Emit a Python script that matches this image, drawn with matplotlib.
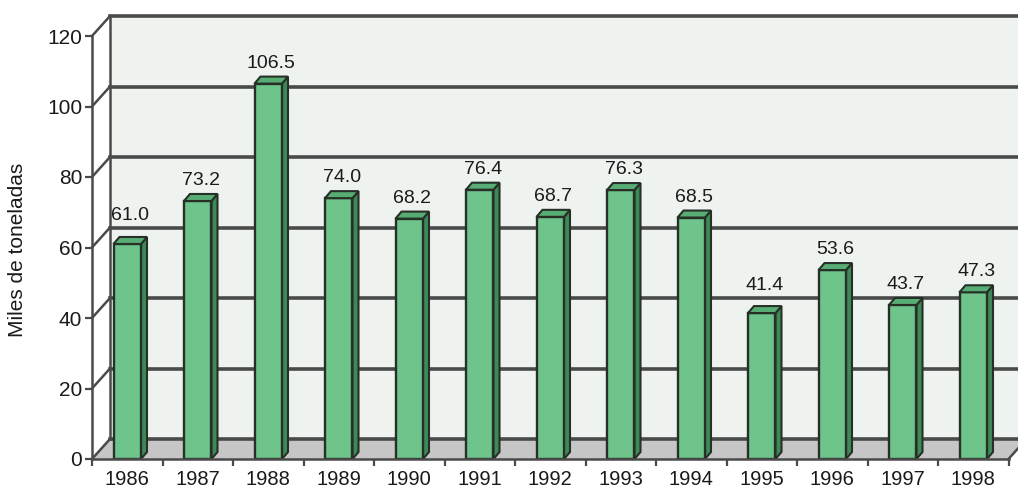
import numpy as np
import matplotlib
matplotlib.use("Agg")
import matplotlib.pyplot as plt
from matplotlib.patches import Polygon

plt.rcParams["font.family"] = ["Liberation Sans", "DejaVu Sans"]

# annual production, thousands of tonnes
years = ["1986", "1987", "1988", "1989", "1990", "1991", "1992",
         "1993", "1994", "1995", "1996", "1997", "1998"]
values = [61.0, 73.2, 106.5, 74.0, 68.2, 76.4, 68.7,
          76.3, 68.5, 41.4, 53.6, 43.7, 47.3]
y_ticks = [0, 20, 40, 60, 80, 100, 120]

W, H = 1018, 495
fig = plt.figure(figsize=(W / 100, H / 100), dpi=100)
fig.patch.set_facecolor("white")

# axes box in pixels: front y-axis at x=92, zero line at y=459, top at y=16
left_px, zero_px, top_px = 92, 459, 16
ax = fig.add_axes([left_px / W, (H - zero_px) / H,
                   (W - left_px) / W, (zero_px - top_px) / H])

px_x = 70.5            # pixels per category
px_y = 423 / 120.0     # pixels per unit
dx = 18 / px_x         # depth of the wall
dy = 20 / px_y
bdx = 6 / px_x         # depth of each bar
bdy = 7 / px_y

n = len(years)
x = np.arange(n)
x_end = n - 0.5
ax.set_xlim(-0.5, -0.5 + (W - left_px) / px_x)
ax.set_ylim(0, 120 + dy)

edge = "#263026"
grid = "#4a4a4a"

# back wall and floor
xr = ax.get_xlim()[1] + 1
ax.add_patch(Polygon([(-0.5 + dx, dy), (xr, dy), (xr, 120 + dy), (-0.5 + dx, 120 + dy)],
                     closed=True, facecolor="#eef3ef", edgecolor="none", zorder=0))
ax.add_patch(Polygon([(-0.5, 0), (x_end, 0), (x_end + dx, dy), (-0.5 + dx, dy)],
                     closed=True, facecolor="#c6c6c6", edgecolor="none", zorder=0))

for v in y_ticks:
    ax.plot([-0.5 + dx, xr], [v + dy, v + dy], color=grid, lw=2.6, zorder=1,
            clip_on=False if v == 120 else True)
    ax.plot([-0.5, -0.5 + dx], [v, v + dy], color=grid, lw=1.8, zorder=1, clip_on=False)
ax.plot([-0.5 + dx, -0.5 + dx], [dy, 120 + dy], color=grid, lw=1.8, zorder=1)
ax.plot([x_end, x_end + dx], [0, dy], color=grid, lw=1.8, zorder=1)

# bars: front face from ax.bar, then side and top faces
w = 0.39
front = "#6ec48b"
side = "#3d8a58"
top = "#58ad74"
label_h = 4.0  # approx height of a value label in data units
ax.bar(x, values, width=w, color=front, edgecolor=edge, linewidth=1.7, zorder=3)
for xi, v in zip(x, values):
    x0, x1 = xi - w / 2, xi + w / 2
    ax.add_patch(Polygon([(x1, 0), (x1, v), (x1 + bdx, v + bdy), (x1 + bdx, bdy)],
                         closed=True, facecolor=side, edgecolor=edge, lw=1.5, zorder=2))
    ax.add_patch(Polygon([(x0, v), (x1, v), (x1 + bdx, v + bdy), (x0 + bdx, v + bdy)],
                         closed=True, facecolor=top, edgecolor=edge, lw=1.5, zorder=3))
    # lift the label clear of a wall gridline when it would cross one
    ly = v + bdy + 1.4
    for g in y_ticks:
        if ly < g + dy < ly + label_h:
            ly = g + dy + 1.0
    ax.text(xi + bdx / 2, ly, f"{v:.1f}", ha="center", va="bottom",
            fontsize=14, color="#1a1a1a", zorder=4)

# axes lines and ticks
for s in ["top", "right"]:
    ax.spines[s].set_visible(False)
ax.spines["left"].set_bounds(0, 120)
ax.spines["bottom"].set_bounds(-0.5, x_end)
for s in ["left", "bottom"]:
    ax.spines[s].set_color(grid)
    ax.spines[s].set_linewidth(1.8)
    ax.spines[s].set_zorder(5)

ax.set_yticks(y_ticks)
ax.set_yticklabels([str(t) for t in y_ticks], fontsize=15, color="#1a1a1a")
ax.tick_params(axis="y", length=5, width=1.6, color=grid, pad=2)

ax.set_xticks(x)
ax.set_xticklabels(years, fontsize=14.5, color="#1a1a1a")
ax.set_xticks(np.arange(-0.5, n, 1.0), minor=True)
ax.tick_params(axis="x", which="major", length=0, pad=8)
ax.tick_params(axis="x", which="minor", length=5, width=1.6, color=grid)

fig.text(18 / W, (H - 250) / H, "Miles de toneladas", rotation=90,
         ha="center", va="center", fontsize=15, color="#1a1a1a")

fig.savefig("out.png", dpi=100)
